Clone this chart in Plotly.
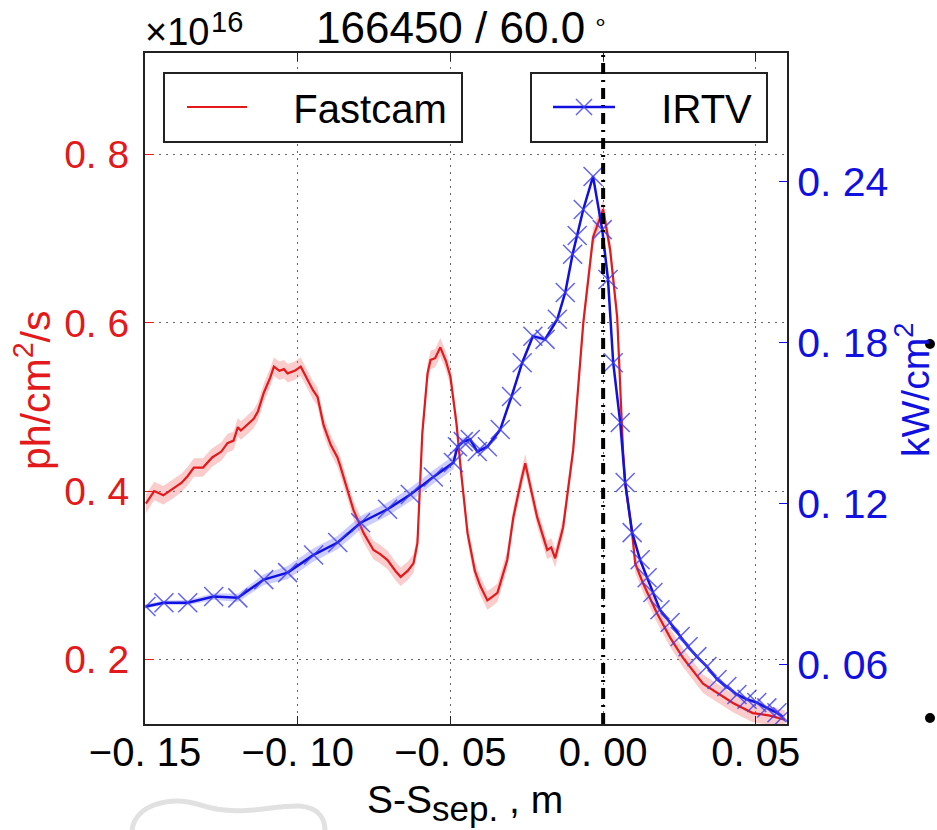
import plotly.graph_objects as go

# ---------------- data ----------------
fast_x = [-0.1497, -0.147, -0.144, -0.141, -0.138, -0.136, -0.134, -0.131, -0.128, -0.125,
          -0.123, -0.121, -0.1196, -0.1186, -0.116, -0.1144, -0.113, -0.1111, -0.109, -0.1078,
          -0.106, -0.1045, -0.1033, -0.101, -0.099, -0.0967, -0.095, -0.0935, -0.0915, -0.0892,
          -0.087, -0.086, -0.0837, -0.0817, -0.0784, -0.0752, -0.073, -0.0706, -0.068, -0.0663,
          -0.064, -0.0621, -0.0608, -0.0598, -0.0592, -0.0575, -0.0565, -0.055, -0.0533, -0.0515,
          -0.050, -0.048, -0.0467, -0.0444, -0.042, -0.0402, -0.0379, -0.036, -0.0346, -0.0314,
          -0.0294, -0.027, -0.0255, -0.0235, -0.0216, -0.0183, -0.017, -0.0157, -0.0131, -0.0098,
          -0.0065, -0.0033, 0.000, 0.0023, 0.0046, 0.0065, 0.0072, 0.0095, 0.0105, 0.0131,
          0.0176, 0.0219, 0.0261, 0.0327, 0.0373, 0.0425, 0.049, 0.0546, 0.0595]
fast_y = [0.385, 0.400, 0.395, 0.402, 0.410, 0.418, 0.428, 0.428, 0.440, 0.447,
          0.457, 0.460, 0.476, 0.472, 0.480, 0.486, 0.495, 0.517, 0.535, 0.548,
          0.543, 0.545, 0.540, 0.543, 0.548, 0.532, 0.520, 0.512, 0.478, 0.455,
          0.440, 0.429, 0.402, 0.377, 0.350, 0.330, 0.325, 0.318, 0.305, 0.298,
          0.305, 0.314, 0.338, 0.410, 0.469, 0.540, 0.556, 0.558, 0.571, 0.555,
          0.536, 0.480, 0.429, 0.350, 0.305, 0.287, 0.270, 0.275, 0.279, 0.318,
          0.369, 0.410, 0.433, 0.400, 0.369, 0.330, 0.333, 0.320, 0.357, 0.449,
          0.600, 0.702, 0.735, 0.687, 0.607, 0.449, 0.410, 0.350, 0.314, 0.290,
          0.255, 0.226, 0.202, 0.171, 0.160, 0.148, 0.136, 0.133, 0.128]
fast_err = 0.011

irtv_x = [-0.1497, -0.1438, -0.136, -0.1275, -0.1196, -0.1111, -0.1033, -0.0948, -0.0869, -0.0794,
          -0.0706, -0.0631, -0.0556, -0.049, -0.0477, -0.0458, -0.0435, -0.0412, -0.0379, -0.0337,
          -0.030, -0.0265, -0.023, -0.019, -0.015, -0.0124, -0.010, -0.0085, -0.0065, -0.0033,
          -0.0003, 0.0016, 0.0033, 0.0056, 0.0072, 0.0095, 0.0121, 0.0144, 0.0163, 0.0186,
          0.0219, 0.0252, 0.0278, 0.0307, 0.034, 0.0373, 0.0405, 0.0438, 0.0471, 0.0503,
          0.0536, 0.0569, 0.0588]
irtv_y = [0.0818, 0.0832, 0.0832, 0.0855, 0.0850, 0.0918, 0.0944, 0.1010, 0.1056, 0.1130,
          0.1180, 0.1235, 0.1300, 0.1354, 0.1413, 0.1432, 0.1440, 0.1395, 0.1413, 0.1477,
          0.1600, 0.1726, 0.1825, 0.1813, 0.1888, 0.1988, 0.2130, 0.2200, 0.2297, 0.2420,
          0.2222, 0.2036, 0.1726, 0.1503, 0.1280, 0.1093, 0.0992, 0.0925, 0.0870, 0.0806,
          0.0758, 0.0706, 0.0668, 0.0631, 0.0594, 0.0546, 0.0520, 0.0490, 0.0472, 0.0460,
          0.0440, 0.0422, 0.0407]
irtv_err = [0.0008, 0.0008, 0.0010, 0.0012, 0.0015, 0.0020, 0.0025, 0.0025, 0.0025, 0.0025,
            0.0025, 0.0025, 0.0025, 0.0025, 0.0020, 0.0015, 0.0012, 0.0010, 0.0010, 0.0010,
            0.0010, 0.0010, 0.0010, 0.0010, 0.0010, 0.0010, 0.0010, 0.0010, 0.0010, 0.0010,
            0.0010, 0.0010, 0.0010, 0.0010, 0.0010, 0.0010, 0.0008, 0.0008, 0.0008, 0.0008,
            0.0008, 0.0008, 0.0008, 0.0008, 0.0008, 0.0008, 0.0008, 0.0008, 0.0008, 0.0008,
            0.0008, 0.0008, 0.0008]

x_ticks = [-0.15, -0.10, -0.05, 0.00, 0.05]
x_ticktext = ["\u22120. 15", "\u22120. 10", "\u22120. 05", "0. 00", "0. 05"]
yl_ticks = [0.2, 0.4, 0.6, 0.8]
yl_ticktext = ["0. 2", "0. 4", "0. 6", "0. 8"]
yr_ticks = [0.06, 0.12, 0.18, 0.24]
yr_ticktext = ["0. 06", "0. 12", "0. 18", "0. 24"]

# ---------------- styling ----------------
FONT = "Liberation Sans, Arial, sans-serif"
RED = "#e3191c"
BLUE = "#1010e0"
W, H = 937, 830
ML, MT = 145, 53
PW, PH = 642, 671
MR, MB = W - ML - PW, H - MT - PH
PAD = "\u00a0\u00a0\u00a0\u2009"


def px2paper(px, py):
    """figure pixel -> paper coordinates"""
    return (px - ML) / PW, (H - MB - py) / PH


fig = go.Figure()

# Fastcam band + line
fig.add_trace(go.Scatter(
    x=fast_x + fast_x[::-1],
    y=[v + fast_err for v in fast_y] + [v - fast_err for v in fast_y[::-1]],
    fill="toself", fillcolor="rgba(240,110,110,0.35)", line=dict(width=0),
    showlegend=False, hoverinfo="skip", yaxis="y"))
fig.add_trace(go.Scatter(
    x=fast_x, y=fast_y, mode="lines", name=PAD + "Fastcam",
    line=dict(color=RED, width=2.2), yaxis="y", legend="legend"))

# IRTV band + line
fig.add_trace(go.Scatter(
    x=irtv_x + irtv_x[::-1],
    y=[v + e for v, e in zip(irtv_y, irtv_err)] + [v - e for v, e in zip(irtv_y[::-1], irtv_err[::-1])],
    fill="toself", fillcolor="rgba(110,110,255,0.35)", line=dict(width=0),
    showlegend=False, hoverinfo="skip", yaxis="y2"))
fig.add_trace(go.Scatter(
    x=irtv_x, y=irtv_y, mode="lines+markers", name=PAD + "IRTV",
    line=dict(color=BLUE, width=2.5),
    marker=dict(symbol="x-thin", size=19, line=dict(width=1.5, color="rgba(60,60,240,0.8)")),
    yaxis="y2", legend="legend2"))

axis_line = dict(showline=True, linecolor="#222", linewidth=2, automargin=False)
GRID = dict(showgrid=True, gridcolor="#666", griddash="2px,5px", gridwidth=1.2)

leg_common = dict(xanchor="left", yanchor="middle", borderwidth=0,
                  bgcolor="rgba(0,0,0,0)", font=dict(size=40, color="black"))
l1x, l1y = px2paper(182, 107)
l2x, l2y = px2paper(548, 107)

fig.update_layout(
    width=W, height=H, autosize=False,
    margin=dict(l=ML, r=MR, t=MT, b=MB, autoexpand=False),
    paper_bgcolor="white", plot_bgcolor="white",
    font=dict(family=FONT, size=36, color="black"),
    xaxis=dict(range=[-0.15, 0.0602], tickvals=x_ticks, ticktext=x_ticktext,
               ticks="inside", ticklen=8, tickcolor="#222", mirror="ticks",
               ticklabelstandoff=-8,
               zeroline=False, tickfont=dict(size=40, color="black"), **GRID, **axis_line),
    yaxis=dict(range=[0.123, 0.921], tickvals=yl_ticks, ticktext=yl_ticktext,
               ticks="inside", ticklen=8, tickcolor=RED, ticklabelstandoff=6,
               zeroline=False, tickfont=dict(size=39, color=RED), **GRID, **axis_line),
    yaxis2=dict(range=[0.038, 0.288], tickvals=yr_ticks, ticktext=yr_ticktext,
                overlaying="y", side="right", ticks="inside", ticklen=8, tickcolor=BLUE,
                showgrid=False, zeroline=False, tickfont=dict(size=41, color=BLUE), **axis_line),
    legend=dict(x=l1x, y=l1y, itemwidth=60, **leg_common),
    legend2=dict(x=l2x, y=l2y, itemwidth=62, **leg_common),
    showlegend=True,
)

# legend frames
for (x0, x1) in [(164, 462), (531, 767)]:
    a0, b0 = px2paper(x0, 142)
    a1, b1 = px2paper(x1, 73)
    fig.add_shape(type="rect", xref="paper", yref="paper", x0=a0, x1=a1, y0=b0, y1=b1,
                  line=dict(color="#222", width=2), fillcolor="white", layer="above")

# separatrix line
fig.add_shape(type="line", x0=0, x1=0, xref="x", y0=0, y1=1, yref="paper",
              line=dict(color="black", width=4, dash="11px,6px,2px,6px"), layer="above")


def label(text, px, py, size, color="black", xanchor="center", angle=0):
    ax, ay = px2paper(px, py)
    fig.add_annotation(text=text, x=ax, y=ay, xref="paper", yref="paper", showarrow=False,
                       textangle=angle, font=dict(size=size, color=color),
                       xanchor=xanchor, yanchor="middle", borderpad=0)


# title and offset text
label("166450 / 60.0", 315, 27, 44, xanchor="left")
label("\u2218", 600, 21, 24)
label("\u00d710", 144, 32, 38, xanchor="left")
label("16", 210, 22, 29, xanchor="left")
# axis titles
label("ph/cm<sup>2</sup>/s", 33, 390, 41, color=RED, angle=-90)
label("kW/cm<sup>2</sup>", 912, 390, 39, color=BLUE, angle=-90)
label("S-S<sub><span style='font-size:35px'>sep.</span></sub> , m", 465, 803, 39)

# stray slide bullets
for (cx, cy) in [(930, 344), (930, 718)]:
    bx, by = px2paper(cx, cy)
    fig.add_shape(type="circle", xref="paper", yref="paper", xsizemode="pixel", ysizemode="pixel",
                  xanchor=bx, yanchor=by, x0=-5, x1=5, y0=-5, y1=5,
                  fillcolor="black", line=dict(width=0), layer="above")

# faint grey logo fragment bottom-left
pts = [(132, 830), (135, 805), (170, 795), (200, 805), (240, 818), (270, 805), (300, 806),
       (320, 808), (325, 820), (325, 830)]
pp = [px2paper(a, b) for a, b in pts]
path = "M {:.4f},{:.4f} C {:.4f},{:.4f} {:.4f},{:.4f} {:.4f},{:.4f} C {:.4f},{:.4f} {:.4f},{:.4f} {:.4f},{:.4f} C {:.4f},{:.4f} {:.4f},{:.4f} {:.4f},{:.4f}".format(
    *[c for p in pp for c in p])
fig.add_shape(type="path", path=path, xref="paper", yref="paper",
              line=dict(color="rgba(200,200,200,0.55)", width=5))

# remove the default 8px page margin so the figure fills the window exactly
fig.write_html("out.html", config={"displayModeBar": False},
               post_script="document.body.style.margin='0px';document.body.style.overflow='hidden';")
